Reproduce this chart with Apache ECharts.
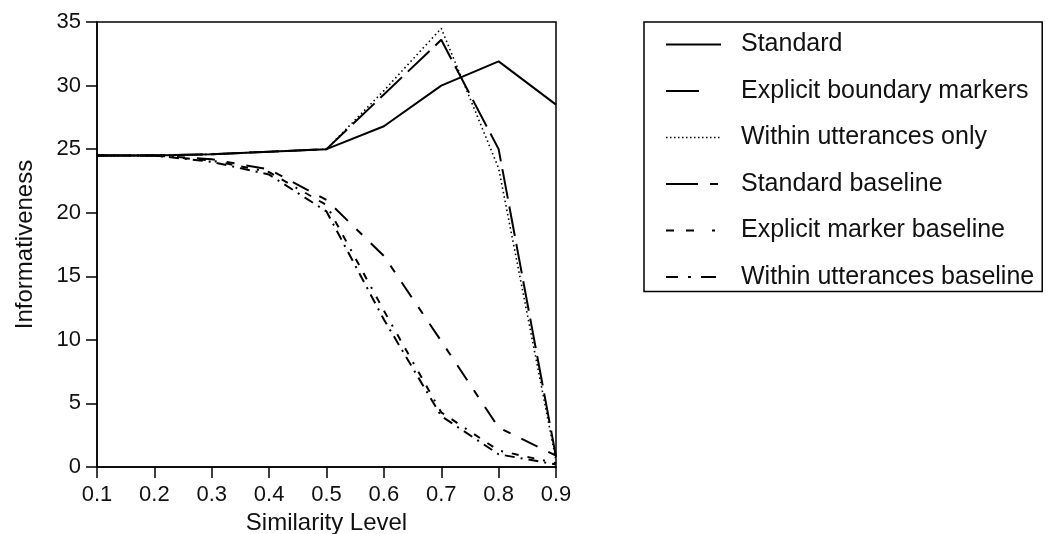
<!DOCTYPE html>
<html><head><meta charset="utf-8">
<script src="https://cdn.jsdelivr.net/npm/echarts@6/dist/echarts.min.js"></script>
<style>html,body{margin:0;padding:0;background:#fff}#c{width:1051px;height:534px}</style>
</head><body><div id="c"></div>
<script>
const categories = ['0.1','0.2','0.3','0.4','0.5','0.6','0.7','0.8','0.9'];
const yTicks = [0,5,10,15,20,25,30,35];
const seriesNames = ['Standard','Explicit boundary markers','Within utterances only','Standard baseline','Explicit marker baseline','Within utterances baseline'];
const standard = [24.5,24.5,24.6,24.8,25.0,26.8,30.0,31.9,28.5];
const explicitBoundary = [24.5,24.5,24.6,24.8,25.0,29.3,33.6,25.0,0.8];
const withinOnly = [24.5,24.5,24.6,24.8,25.0,29.6,34.5,23.5,0.5];
const standardBaseline = [24.5,24.5,24.2,23.4,21.0,16.6,9.9,3.1,0.9];
const explicitBaseline = [24.5,24.5,24.1,23.2,20.6,12.3,4.3,1.3,0.3];
const withinBaseline = [24.5,24.5,24.0,23.0,20.1,11.6,4.0,1.0,0.2];

const font = '"Liberation Sans", Arial, Helvetica, sans-serif';
const plotDash = ['solid', [30,8], [1.5,3], [18,12,8,12], [7,9,7,9,2,9], [10,6,2,6]];
const legendDash = ['solid', [33,30], [1.5,2.5], [32,12,8,20], [8,12,8,18,3,20], [12,10,3,10,15,20]];
const dataSets = [standard, explicitBoundary, withinOnly, standardBaseline, explicitBaseline, withinBaseline];
const widths = [2, 2, 1.6, 2, 2, 2];

const chart = echarts.init(document.getElementById('c'), null, {renderer:'canvas'});
chart.setOption({
  animation: false,
  backgroundColor: '#fff',
  grid: { left: 97, right: 495, top: 22, bottom: 67, outerBoundsMode: 'none', containLabel: false, show: true, borderColor: '#000', borderWidth: 1.5, backgroundColor: 'transparent' },
  xAxis: {
    type: 'category', data: categories, boundaryGap: false,
    name: 'Similarity Level', nameLocation: 'middle', nameGap: 38,
    nameTextStyle: { fontFamily: font, fontSize: 24, color: '#111' },
    axisLine: { lineStyle: { color: '#000', width: 1.5 } },
    axisTick: { show: true, inside: false, length: 11, lineStyle: { color: '#000', width: 1.5 } },
    axisLabel: { fontFamily: font, fontSize: 22, color: '#111', margin: 17 },
    splitLine: { show: false }
  },
  yAxis: {
    type: 'value', min: yTicks[0], max: yTicks[yTicks.length-1], interval: 5,
    name: 'Informativeness', nameLocation: 'middle', nameGap: 60,
    nameTextStyle: { fontFamily: font, fontSize: 24, color: '#111' },
    axisLine: { show: true, lineStyle: { color: '#000', width: 1.5 } },
    axisTick: { show: true, inside: false, length: 11, lineStyle: { color: '#000', width: 1.5 } },
    axisLabel: { fontFamily: font, fontSize: 22, color: '#111', margin: 16 },
    splitLine: { show: false }
  },
  legend: {
    orient: 'vertical', left: 644, top: 22,
    padding: [10, 8, 2, 21],
    borderColor: '#000', borderWidth: 1.5,
    itemWidth: 55, itemHeight: 24, itemGap: 21.5,
    itemStyle: { opacity: 0, borderWidth: 0 },
    textStyle: { fontFamily: font, fontSize: 25, color: '#111', lineHeight: 24, padding: [0,0,0,15] },
    data: seriesNames.map((n, i) => ({ name: n, lineStyle: { type: legendDash[i], width: widths[i], color: '#000' }, itemStyle: { opacity: 0 } }))
  },
  series: seriesNames.map((n, i) => ({
    name: n, type: 'line', data: dataSets[i], symbol: 'none',
    lineStyle: { color: '#000', width: widths[i], type: plotDash[i] },
    itemStyle: { color: '#000' }
  }))
});
</script></body></html>
